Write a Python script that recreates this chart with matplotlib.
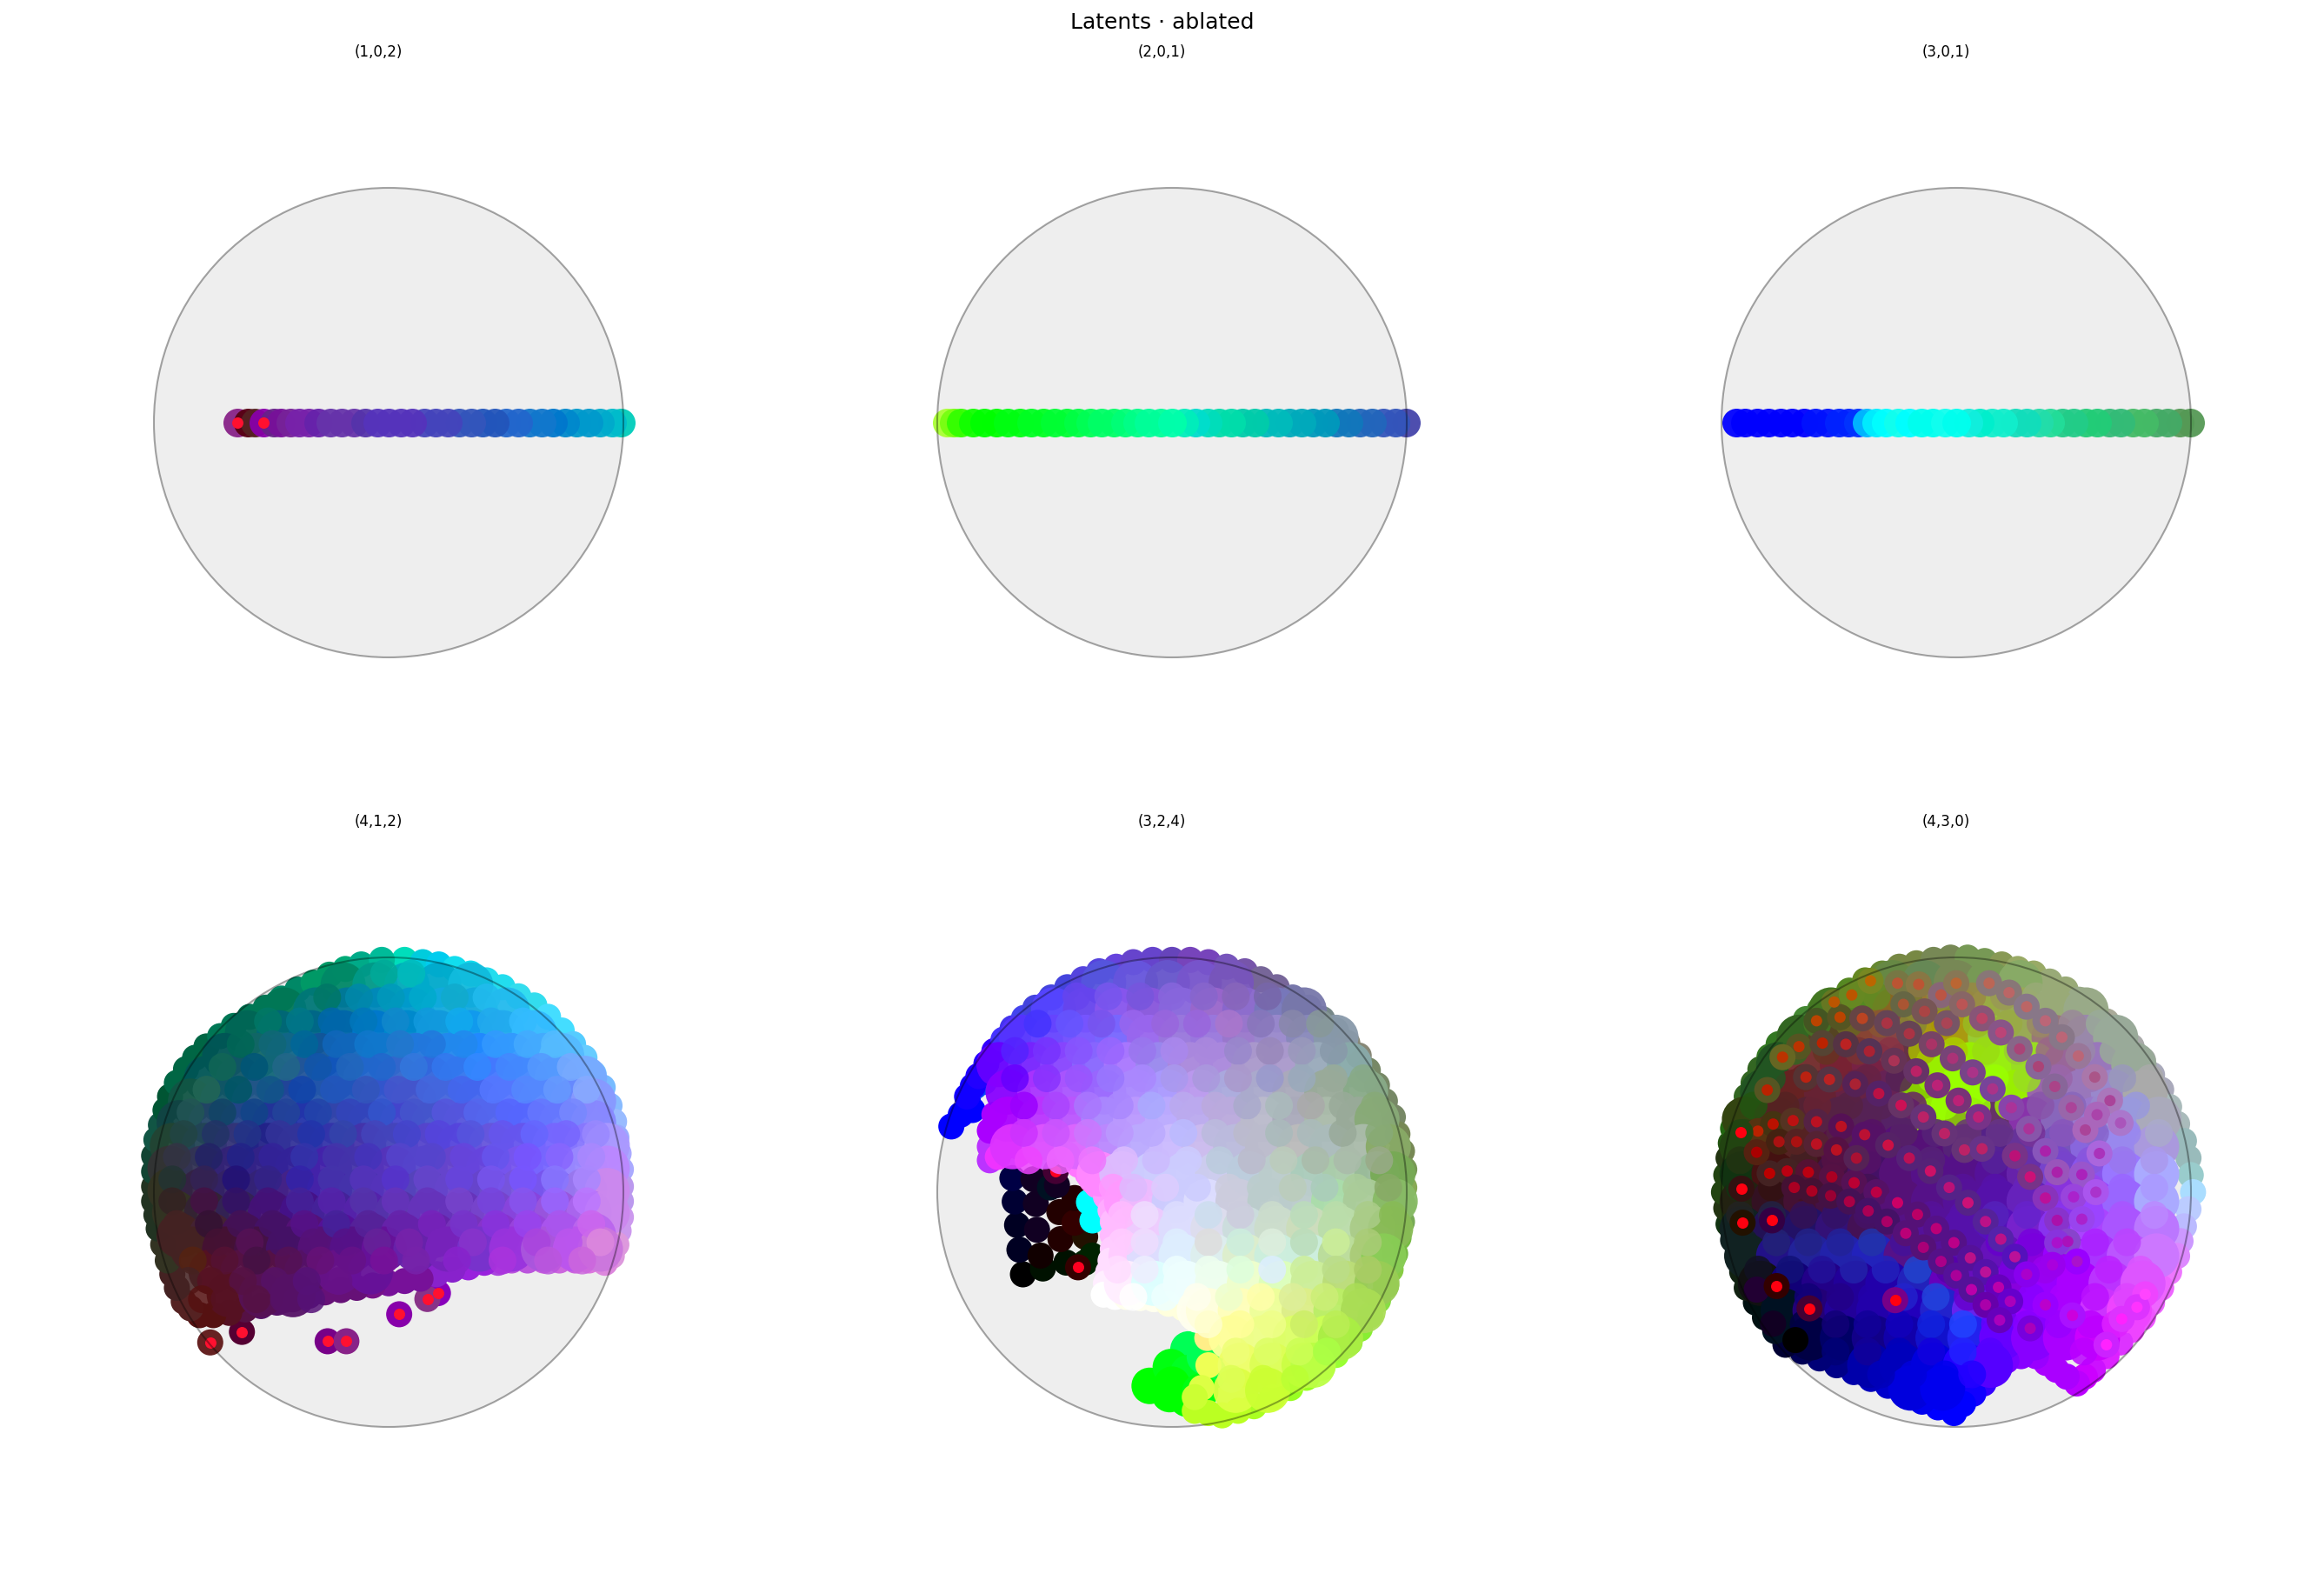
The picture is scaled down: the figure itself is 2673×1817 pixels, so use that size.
'''
Latent projections of the ablated model, six panels on the unit disk.
All points read off the reference picture.
'''
import numpy as np
import matplotlib
matplotlib.use("Agg")
import matplotlib.pyplot as plt
from matplotlib.patches import Circle

titles = ["(1,0,2)", "(2,0,1)", "(3,0,1)", "(4,1,2)", "(3,2,4)", "(4,3,0)"]

# ===== top row, everything sits on y=0 =====
p1_x = [-.645,-.6,-.57,-.533,-.49,-.46,-.42,-.38,-.34,-.3,-.25,-.2,-.15,-.1,-.05,0,.05,.1,.15,.2,.25,.3,.35,.4,.45,.5,.55,.6,.65,.7,.75,.8,.85,.9,.95,.99]
p1_c = ["#828","#501","#522","#80a","#628","#719","#729","#72a","#72a","#62a","#63a","#63a","#63a","#53a","#53b","#53b","#53b","#53b","#44b","#44b","#44b","#35b","#35b","#25b","#25b","#26c","#26c","#17c","#17c","#07c","#08c","#09c","#09c","#0ac","#0bc","#0cb"]
p1_red = [-.645,-.533]

p2_x = [-.96,-.93,-.9,-.85,-.8,-.75,-.7,-.65,-.6,-.55,-.5,-.45,-.4,-.35,-.3,-.25,-.2,-.15,-.1,-.05,0,.05,.1,.15,.2,.25,.3,.35,.4,.45,.5,.55,.6,.65,.7,.75,.8,.85,.9,.95,.997]
p2_c = ["#af3","#7f1","#3f0","#1f0","#0f0","#0f0","#0f1","#0f1","#0f2","#0f2","#0f3","#0f3","#0f4","#0f5","#0f6","#0f6","#0f7","#0f8","#0f9","#0f9","#0fa","#0eb","#0dc","#0db","#0da","#0da","#0ca","#0ca","#0bb","#0bb","#0ab","#0ab","#09b","#09b","#17b","#17b","#26b","#26b","#35b","#35b","#44a"]

p3_x = [-.937,-.9,-.85,-.8,-.75,-.7,-.65,-.6,-.55,-.5,-.46,-.42,-.38,-.34,-.3,-.25,-.2,-.15,-.1,-.05,0,.05,.1,.15,.2,.25,.3,.35,.4,.45,.5,.55,.6,.65,.7,.75,.8,.85,.9,.95,.996]
p3_c = ["#00f","#00f","#00f","#00f","#00f","#00f","#00f","#01f","#01f","#02f","#02f","#03f","#0bf","#0ef","#0ff","#1fe","#0ff","#0fe","#0fe","#1fe","#0fe","#1ed","#0ec","#1ec","#1ec","#1db","#1db","#2da","#2d9","#2c8","#2c8","#2c7","#2c7","#3b7","#3b7","#4b6","#4b6","#4a6","#4a6","#595","#595"]

# ===== (4,1,2) =====
p4_rim_x = [.07,.15,.22,.29,.36,.43,.5,.57,.64,.7,.76,.81,.86,.9,.94,.97,.99,1.0,1.01,1.02,1.02,1.02,1.02,1.01,1.0,.98,.95,.88,.82,.75,.68,.61,.54,.48,.42,.35,.28,.21,.14,.07,0,-.07,-.14,-.21,-.28,-.35,-.42,-.49,-.56,-.63,-.7,-.77,-.83,-.87,-.9,-.93,-.95,-.97,-.99,-1.01,-1.02,-1.03,-1.03,-1.03,-1.03,-1.02,-1.0,-.98,-.96,-.93,-.89,-.85,-.8,-.74,-.68,-.61,-.54,-.47,-.4,-.33,-.26,-.19,-.12,-.03]
p4_rim_y = [1.02,1.01,1.0,.98,.96,.93,.9,.86,.82,.77,.71,.65,.59,.52,.46,.38,.31,.24,.17,.1,.025,-.04,-.11,-.17,-.23,-.28,-.31,-.3,-.3,-.3,-.3,-.3,-.3,-.31,-.31,-.33,-.34,-.36,-.38,-.39,-.4,-.41,-.42,-.43,-.44,-.455,-.47,-.485,-.5,-.515,-.53,-.54,-.54,-.51,-.48,-.42,-.36,-.3,-.23,-.16,-.1,-.04,.025,.09,.16,.23,.295,.36,.42,.48,.54,.59,.64,.685,.73,.77,.81,.85,.89,.92,.955,.98,1.0,1.02]
p4_rim_c = ["#0db","#0cd","#0ce","#1de","#1de","#2de","#2de","#3de","#3de","#4df","#4df","#5cf","#6cf","#7cf","#7bf","#8bf","#9bf","#9af","#aaf","#aaf","#b9e","#b9e","#c9e","#c9e","#d9d","#d9d","#d8d","#d7d","#c6d","#c6d","#c6d","#b5d","#b5d","#a4d","#92d","#92d","#82c","#82c","#719","#719","#719","#718","#617","#617","#617","#517","#517","#516","#516","#514","#512","#511","#511","#522","#522","#422","#422","#332","#332","#232","#232","#232","#232","#143","#143","#154","#154","#053","#053","#064","#064","#064","#064","#075","#075","#075","#075","#086","#086","#096","#096","#0a7","#0a8","#0b9"]

p4_y = [.91,.80,.70,.60,.50,.40,.305,.205,.105,.007,-.09,-.19,-.25,-.35,-.45]
p4_x = [
    [-.2,-.06,.08,.22,.36],
    [-.46,-.32,-.18,-.04,.1,.24,.38,.52],
    [-.62,-.48,-.34,-.2,-.06,.08,.22,.36,.5,.64],
    [-.72,-.58,-.44,-.3,-.16,-.02,.12,.26,.4,.54,.68,.76],
    [-.8,-.66,-.52,-.38,-.24,-.1,.04,.18,.32,.46,.6,.74,.86],
    [-.87,-.73,-.59,-.45,-.31,-.17,-.03,.11,.25,.39,.53,.67,.81,.9],
    [-.92,-.78,-.64,-.5,-.36,-.22,-.08,.06,.2,.34,.48,.62,.76,.9],
    [-.95,-.81,-.67,-.53,-.39,-.25,-.11,.03,.17,.31,.45,.59,.73,.87,.96],
    [-.96,-.82,-.68,-.54,-.4,-.26,-.12,.02,.16,.3,.44,.58,.72,.86,.96],
    [-.96,-.82,-.68,-.54,-.4,-.26,-.12,.02,.16,.3,.44,.58,.72,.86,.96],
    [-.94,-.8,-.66,-.52,-.38,-.24,-.1,.04,.18,.32,.46,.6,.74,.88,.96],
    [-.92,-.78,-.64,-.5,-.36,-.22,-.08,.06,.2,.34,.48,.62,.76,.9],
    [-.86,-.72,-.58,-.44,-.3,-.16,-.02,.12,.26,.4,.54,.68,.82,.93],
    [-.78,-.64,-.5,-.36,-.22,-.08],
    [-.7,-.56,-.42],
]
p4_c = [
    ["#086","#098","#0ab","#0ac","#1bd"],
    ["#075","#077","#079","#08b","#09c","#1ad","#1ad","#2be"],
    ["#065","#067","#068","#06a","#07c","#08c","#19d","#19e","#2ae","#3bf"],
    ["#055","#166","#168","#159","#16b","#17c","#27d","#28e","#28f","#39f","#4af","#5bf"],
    ["#055","#156","#167","#259","#15b","#26c","#36c","#36d","#37e","#47f","#48f","#59f","#7af"],
    ["#154","#156","#258","#249","#25a","#25b","#35c","#45c","#46d","#46e","#57f","#58f","#68f","#89f"],
    ["#144","#246","#248","#239","#23a","#34a","#34b","#44c","#45c","#55d","#56e","#56f","#67f","#88f"],
    ["#243","#245","#337","#228","#339","#33a","#43a","#44b","#54c","#54d","#65d","#65e","#76f","#87f","#a9f"],
    ["#333","#335","#327","#328","#329","#42a","#43a","#53b","#54c","#64c","#64d","#75e","#76f","#98f","#b8f"],
    ["#332","#324","#326","#327","#428","#42a","#43a","#53b","#54b","#64c","#64c","#75d","#75e","#97e","#c8e"],
    ["#332","#323","#325","#417","#418","#429","#52a","#53a","#63b","#63b","#74c","#84d","#95d","#a6e","#c8e"],
    ["#422","#423","#415","#416","#517","#519","#529","#62a","#62a","#73b","#83c","#94d","#a5e","#b6e"],
    ["#422","#413","#414","#416","#517","#518","#619","#62a","#72b","#73c","#93d","#a5d","#b5e","#c7d"],
    ["#512","#514","#514","#516","#618","#619"],
    ["#512","#515","#516"],
]
# finer points lying over the first set
p4b_y = [.96,.855,.75,.65,.55,.45,.35,.255,.155,.056,-.04,-.14,-.22,-.30,-.39,-.47]
p4b_x = [
    [-.02,.1],
    [-.27,-.13,.01,.15,.29,.43],
    [-.53,-.39,-.25,-.11,.03,.17,.31,.45,.59],
    [-.65,-.51,-.37,-.23,-.09,.05,.19,.33,.47,.61,.73],
    [-.73,-.59,-.45,-.31,-.17,-.03,.11,.25,.39,.53,.67,.8],
    [-.8,-.66,-.52,-.38,-.24,-.1,.04,.18,.32,.46,.6,.74,.87],
    [-.87,-.73,-.59,-.45,-.31,-.17,-.03,.11,.25,.39,.53,.67,.81],
    [-.9,-.76,-.62,-.48,-.34,-.2,-.06,.08,.22,.36,.5,.64,.78,.91],
    [-.93,-.79,-.65,-.51,-.37,-.23,-.09,.05,.19,.33,.47,.61,.75,.89],
    [-.95,-.81,-.67,-.53,-.39,-.25,-.11,.03,.17,.31,.45,.59,.73,.87],
    [-.95,-.81,-.67,-.53,-.39,-.25,-.11,.03,.17,.31,.45,.59,.73,.87],
    [-.93,-.79,-.65,-.51,-.37,-.23,-.09,.05,.19,.33,.47,.61,.75,.89],
    [-.89,-.75,-.61,-.47,-.33,-.19,-.05,.09,.23,.37,.51,.65,.79,.93],
    [-.86,-.72,-.58,-.44,-.3,-.16,-.02,.12,.3,.5,.7,.85],
    [-.88,-.78,-.64,-.5,-.36,-.22],
    [-.82,-.72,-.58,-.46,-.34],
]
p4b_c = [
    ["#0a9","#0bb"],
    ["#076","#08a","#09b","#0ac","#1ac","#2be"],
    ["#076","#078","#06a","#07b","#18c","#19d","#1ae","#2ae","#3bf"],
    ["#065","#167","#069","#16b","#17c","#27c","#27d","#28e","#39f","#4af","#5bf"],
    ["#165","#057","#268","#15a","#26b","#26c","#37d","#37e","#38f","#48f","#59f","#7af"],
    ["#265","#056","#158","#14a","#25b","#35b","#45c","#46d","#46e","#57f","#58f","#69f","#8af"],
    ["#255","#146","#148","#249","#24a","#34b","#35c","#45c","#55d","#56e","#56f","#67f","#78f"],
    ["#244","#236","#238","#339","#23a","#34a","#44b","#44c","#54d","#55d","#65e","#66f","#76f","#98f"],
    ["#334","#226","#228","#329","#33a","#43a","#43b","#54c","#54c","#64d","#65e","#75f","#86f","#a8f"],
    ["#233","#325","#217","#328","#32a","#43a","#53b","#53c","#64c","#64d","#75e","#75f","#87f","#a8f"],
    ["#322","#414","#316","#417","#429","#52a","#53a","#63b","#63b","#74c","#74d","#85e","#96f","#b7f"],
    ["#422","#313","#415","#416","#518","#429","#529","#62a","#72b","#73c","#83d","#94e","#a5e","#c6e"],
    ["#422","#413","#515","#416","#517","#518","#629","#72a","#72b","#83c","#93d","#a4d","#b5e","#d8d"],
    ["#521","#513","#414","#515","#617","#618","#719","#72a","#82c","#a3d","#b5d","#c6d"],
    ["#422","#512","#514","#516","#517","#618"],
    ["#511","#512","#514","#516","#517"],
]
p4_red_x = [.21,-.76,-.625,-.26,-.18,.045,.165]
p4_red_y = [-.43,-.64,-.595,-.635,-.635,-.52,-.455]
p4_red_c = ["#80b","#622","#503","#708","#828","#80a","#838"]

# ===== (3,2,4) =====
p5_dark_x = [-.635,-.65,-.66,-.67,-.68,-.55,-.56,-.575,-.58,-.59,-.45,-.475,-.48,-.52,-.37,-.415,-.415,-.37,-.34,-.49]
p5_dark_y = [-.35,-.245,-.14,-.04,.06,-.325,-.27,-.16,-.05,.055,-.30,-.2,-.085,.02,-.19,-.13,-.025,-.3,-.27,.03]
p5_dark_c = ["#000","#002","#002","#003","#004","#010","#100","#102","#102","#102","#010","#200","#200","#012","#210","#300","#200","#020","#020","#102"]
p5_cyan_x = [-.355,-.34]
p5_cyan_y = [-.04,-.12]
p5_green_x = [-.095,-.01,.065,.155,.07,-.005,.07,.0,.12,.14]
p5_green_y = [-.825,-.86,-.88,-.77,-.67,-.745,-.77,-.82,-.85,-.7]
p5_green_c = ["#0f0","#0f0","#0f0","#0f4","#0f5","#0f1","#0f2","#0f0","#0f1","#0f5"]
p5_blue_x = [-.94,-.87,-.85,-.84,-.8,-.9]
p5_blue_y = [.28,.40,.35,.45,.47,.33]
p5_blue_c = ["#00f","#00f","#00f","#04f","#04f","#00f"]

p5_rim_x = [-.9,-.875,-.85,-.815,-.78,-.74,-.7,-.65,-.6,-.53,-.46,-.39,-.32,-.245,-.17,-.085,0,.08,.16,.24,.32,.39,.46,.53,.6,.66,.72,.77,.82,.86,.9,.935,.97,.99,1.01,1.02,1.02,1.015,1.01,.995,.98,.96,.94,.905,.87,.825,.78,.72,.66,.59,.52,.44,.36,.29,.22,.16,.1,
            -.8,-.8,-.8,-.78,-.765,-.73,-.675,-.62,-.545,-.46,-.41,-.37,-.33,-.29,-.27,-.26,-.26,-.26,-.27,-.28,-.29,-.3,-.25,-.2,-.14,-.08,-.015,.05,.095,.14,.155,.16,.13,.1]
p5_rim_y = [.42,.465,.51,.565,.62,.67,.72,.765,.81,.855,.9,.935,.97,.99,1.01,1.02,1.02,1.02,1.01,.99,.97,.935,.9,.855,.81,.76,.71,.655,.6,.535,.47,.4,.33,.255,.18,.1,.02,-.055,-.13,-.2,-.27,-.34,-.41,-.475,-.54,-.6,-.66,-.715,-.77,-.815,-.86,-.9,-.94,-.96,-.98,-.97,-.96,
            .14,.2,.27,.34,.155,.2,.2,.21,.195,.165,.12,.08,.03,-.02,-.08,-.13,-.19,-.25,-.3,-.35,-.4,-.45,-.46,-.46,-.465,-.47,-.49,-.51,-.53,-.555,-.64,-.76,-.86,-.9]
p5_rim_c = ["#10f","#10f","#20f","#20f","#30f","#43f","#43e","#44e","#44d","#44d","#44d","#54d","#54d","#64d","#64c","#64c","#64b","#74b","#74b","#75b","#75a","#769","#769","#77a","#77a","#788","#788","#887","#887","#786","#786","#786","#786","#785","#785","#795","#8a5","#7a5","#7a5","#7b4","#7b4","#8c4","#8c4","#8d4","#8d4","#8e3","#8e3","#9f3","#9f3","#9f2","#9f2","#af2","#af2","#bf2","#bf2","#bf2","#bf2",
            "#b3f","#b3f","#a0f","#a0f","#e3f","#e3f","#e4f","#e5f","#f5f","#f6f","#f7f","#f7f","#f8f","#f9f","#faf","#fbf","#fbf","#fcf","#fdf","#fdf","#fef","#fff","#fff","#ffe","#ffe","#ffe","#ffd","#ffd","#fec","#fea","#fe8","#ef5","#df4","#cf3"]

p5_y = [.92,.80,.68,.56,.44,.32,.2,.08,-.04,-.16,-.28,-.40,-.52,-.64,-.76,-.87]
p5_x = [
    [-.3,-.16,-.02,.12,.26],
    [-.52,-.38,-.24,-.1,.04,.18,.32,.46,.58],
    [-.66,-.52,-.38,-.24,-.1,.04,.18,.32,.46,.6,.72],
    [-.76,-.62,-.48,-.34,-.2,-.06,.08,.22,.36,.5,.64,.78],
    [-.72,-.58,-.44,-.3,-.16,-.02,.12,.26,.4,.54,.68,.85],
    [-.72,-.58,-.44,-.3,-.16,-.02,.12,.26,.4,.54,.68,.82,.9],
    [-.7,-.56,-.42,-.28,-.14,0,.14,.28,.42,.56,.7,.84,.95],
    [-.32,-.22,-.08,.06,.2,.34,.48,.62,.76,.9,.97],
    [-.2,-.13,.01,.15,.29,.43,.57,.71,.85,.98],
    [-.18,-.1,.04,.18,.32,.46,.6,.74,.88,.96],
    [-.18,-.1,.04,.18,.32,.46,.6,.74,.88,.93],
    [-.2,-.08,.06,.2,.34,.48,.62,.76,.9],
    [.12,.16,.3,.44,.58,.72,.84],
    [.26,.4,.54,.68,.74],
    [.3,.44,.58,.62],
    [.28,.42],
]
p5_c = [
    ["#55d","#65d","#65c","#75c","#75b"],
    ["#54f","#64e","#85e","#85d","#86d","#96c","#86c","#77b","#77a"],
    ["#53f","#64f","#75f","#76f","#96e","#97d","#97d","#97c","#98c","#88b","#89a"],
    ["#60f","#72f","#84f","#86f","#a7f","#98e","#a8d","#a8d","#a9c","#a9c","#9ab","#8aa"],
    ["#80f","#a3f","#a5f","#96f","#a8f","#a9f","#b9e","#aad","#aac","#aab","#9a9","#8a8"],
    ["#a0f","#b3f","#b5f","#a8f","#b9f","#baf","#bae","#bad","#bbc","#aab","#aba","#9a9","#8a7"],
    ["#d3f","#d5f","#d6f","#b8f","#baf","#cbf","#cbe","#bbd","#bbc","#bbb","#abb","#aba","#8a6"],
    ["#f8f","#dbf","#ccf","#ccf","#cce","#bcd","#bcc","#acb","#aca","#9b9","#7a5"],
    ["#f9f","#ebf","#ccf","#ddf","#ccd","#bcc","#bcc","#ada","#ac9","#8b6"],
    ["#fbf","#ecf","#ddf","#dde","#cdd","#cdc","#cdb","#bda","#ac8","#8b5"],
    ["#fcf","#ddf","#def","#dee","#dec","#ced","#ced","#bd9","#ac7","#8c5"],
    ["#fef","#dff","#eff","#efe","#efc","#dfb","#ce9","#bd7","#9c5"],
    ["#ffe","#ffd","#ffb","#ef9","#de8","#be6","#ad5"],
    ["#ff9","#ef8","#df6","#cf5","#ae4"],
    ["#ef6","#df5","#cf4","#bf4"],
    ["#df4","#cf3"],
]
p5b_y = [.86,.74,.62,.5,.38,.26,.14,.02,-.1,-.22,-.34,-.46,-.58,-.7,-.82]
p5b_x = [
    [-.42,-.28,-.14,0,.14,.28,.42],
    [-.59,-.45,-.31,-.17,-.03,.11,.25,.39,.53,.65],
    [-.69,-.55,-.41,-.27,-.13,.01,.15,.29,.43,.57,.71],
    [-.69,-.55,-.41,-.27,-.13,.01,.15,.29,.43,.57,.71,.84],
    [-.65,-.51,-.37,-.23,-.09,.05,.19,.33,.47,.61,.75,.89],
    [-.65,-.51,-.37,-.23,-.09,.05,.19,.33,.47,.61,.75,.91],
    [-.63,-.49,-.35,-.21,-.07,.07,.21,.35,.49,.63,.77,.91],
    [-.26,-.17,-.03,.11,.25,.39,.53,.67,.81,.95],
    [-.22,-.12,.02,.16,.3,.44,.58,.72,.86,.97],
    [-.22,-.12,.02,.16,.3,.44,.58,.72,.86],
    [-.24,-.12,.02,.16,.3,.44,.58,.72,.86],
    [-.17,-.03,.11,.25,.39,.53,.67,.81],
    [.16,.3,.44,.58,.72],
    [.28,.42,.56,.68],
    [.26,.4,.54],
]
p5b_c = [
    ["#64e","#75e","#75d","#86d","#86c","#86b","#76a"],
    ["#43f","#65f","#75e","#96e","#96d","#96d","#a7c","#87b","#88a","#899"],
    ["#52f","#73f","#85f","#96f","#97e","#a8e","#a8d","#98c","#98b","#99b","#89a"],
    ["#60f","#83f","#95f","#97f","#a8f","#a9e","#a9d","#a9c","#99c","#9ab","#9a9","#8a8"],
    ["#90f","#a4f","#a7f","#a8f","#aaf","#bae","#bad","#aac","#abb","#aaa","#9a9","#8a7"],
    ["#c3f","#c5f","#c7f","#b9f","#baf","#bbf","#bbd","#bbc","#abb","#abb","#9a9","#8a7"],
    ["#e4f","#e6f","#e7f","#dbf","#cbf","#ccf","#bcd","#bbc","#bcb","#aba","#aba","#9a8"],
    ["#f9f","#dbf","#dcf","#ccf","#ccd","#bcc","#bcb","#acb","#ac9","#8a6"],
    ["#fbf","#edf","#ddf","#cde","#ccd","#cdc","#bdb","#bda","#ac8","#8b5"],
    ["#fcf","#edf","#def","#ddd","#ced","#ded","#bdb","#ce9","#ac7"],
    ["#fdf","#eef","#eff","#efe","#dfd","#def","#ce9","#bd8","#ac6"],
    ["#fff","#eff","#ffe","#efc","#ffa","#de9","#ce7","#ad5"],
    ["#ffc","#ff9","#ef8","#ce6","#be5"],
    ["#ef7","#df6","#cf5","#af4"],
    ["#df5","#cf3","#bf3"],
]
p5_red_x = [-.495,-.40]
p5_red_y = [.09,-.32]
p5_red_c = ["#403","#300"]

# ===== (4,3,0) =====
p6_rim_x = [-.01,-.08,-.15,-.225,-.3,-.375,-.45,-.525,-.6,-.675,-.75,-.795,-.84,-.88,-.92,-.94,-.96,-.98,-1.0,-1.01,-1.02,-1.01,-1.0,-.99,-.98,-.95,-.92,-.89,-.86,-.82,-.78,-.72,-.66,-.6,-.54,-.47,-.4,-.325,-.25,-.175,-.1,-.025,.05,.125,.2,.27,.34,.41,.48,.54,.6,.66,.72,.77,.82,.86,.9,.935,.97,1.0,1.02,1.03,1.04,1.02,1.0,.985,.97,.935,.9,.86,.82,.77,.72,.66,.6,.565,.53,.485,.44,.395,.35,.285,.22,.17,.12,.075,.03]
p6_rim_y = [-.97,-.945,-.92,-.885,-.85,-.82,-.79,-.76,-.73,-.7,-.67,-.61,-.55,-.485,-.42,-.35,-.28,-.21,-.14,-.07,0,.075,.15,.215,.28,.35,.42,.48,.54,.595,.65,.705,.76,.8,.84,.885,.93,.96,.99,1.005,1.02,1.03,1.03,1.015,1.0,.98,.96,.925,.89,.845,.8,.75,.7,.64,.58,.515,.45,.375,.3,.225,.15,.075,0,-.075,-.15,-.215,-.28,-.35,-.42,-.485,-.55,-.605,-.66,-.72,-.78,-.81,-.84,-.81,-.78,-.75,-.72,-.72,-.74,-.79,-.84,-.885,-.93]
p6_rim_c = ["#00f","#00f","#00e","#00d","#00c","#00b","#00a","#008","#007","#005","#003","#012","#011","#011","#121","#121","#122","#122","#131","#231","#241","#241","#231","#251","#261","#261","#362","#362","#362","#372","#372","#473","#483","#483","#583","#582","#682","#683","#784","#784","#785","#785","#795","#795","#895","#9a6","#9a6","#9a7","#9a7","#9a8","#9a8","#aa9","#aa9","#aaa","#aaa","#aab","#aab","#abb","#abb","#9bb","#9bb","#9cc","#adf","#bcf","#bbf","#c9f","#d8f","#e7f","#e6f","#e6f","#e5f","#e4f","#d3f","#d2f","#c1f","#c0f","#b0f","#a0f","#a0f","#a0f","#90f","#80f","#70f","#50f","#30f","#10f","#00f"]

p6_y = [.92,.8,.68,.56,.44,.32,.2,.08,-.04,-.16,-.28,-.4,-.52,-.64,-.76,-.86]
p6_x = [
    [-.28,-.14,0,.14,.28],
    [-.55,-.41,-.27,-.13,.01,.15,.29,.43,.57],
    [-.69,-.55,-.41,-.27,-.13,.01,.15,.29,.43,.57,.7],
    [-.78,-.64,-.5,-.36,-.22,-.08,.06,.2,.34,.48,.62,.78],
    [-.85,-.71,-.57,-.43,-.29,-.15,-.01,.13,.27,.41,.55,.69,.83],
    [-.93,-.79,-.65,-.51,-.37,-.23,-.09,.05,.19,.33,.47,.61,.75,.89],
    [-.94,-.8,-.66,-.52,-.38,-.24,-.1,.04,.18,.32,.46,.6,.74,.88],
    [-.94,-.8,-.66,-.52,-.38,-.24,-.1,.04,.18,.32,.46,.6,.74,.88],
    [-.94,-.8,-.66,-.52,-.38,-.24,-.1,.04,.18,.32,.46,.6,.74,.88],
    [-.94,-.8,-.66,-.52,-.38,-.24,-.1,.04,.18,.32,.46,.6,.74,.88],
    [-.92,-.78,-.64,-.5,-.36,-.22,-.08,.06,.2,.34,.48,.62,.76,.88],
    [-.86,-.72,-.58,-.44,-.3,-.16,-.02,.12,.26,.4,.54,.68,.82],
    [-.76,-.62,-.48,-.34,-.2,-.06,.08,.22,.36,.5,.64,.76],
    [-.64,-.5,-.36,-.22,-.08,.06,.2,.34,.48,.62],
    [-.38,-.24,-.1,.04,.15],
    [-.2,-.06],
]
p6_c = [
    ["#684","#685","#785","#795","#8a6"],
    ["#472","#582","#862","#973","#883","#9a4","#9a5","#9a7","#9a8"],
    ["#362","#542","#843","#844","#a91","#a91","#9c3","#9a5","#977","#98a","#9a9"],
    ["#252","#733","#723","#724","#634","#9e0","#9e0","#9e1","#9d2","#969","#97b","#9a9"],
    ["#252","#622","#623","#624","#625","#8c0","#9f0","#9f0","#9e0","#96a","#97b","#98c","#aaa"],
    ["#341","#522","#523","#524","#525","#526","#9e0","#8b1","#636","#83a","#86b","#97c","#99d","#aab"],
    ["#241","#521","#522","#514","#516","#517","#517","#527","#528","#639","#75b","#86d","#98e","#a9d"],
    ["#131","#411","#412","#414","#416","#517","#518","#518","#519","#62a","#74c","#85e","#97f","#aaf"],
    ["#221","#312","#413","#414","#415","#517","#518","#519","#51a","#62b","#83d","#94f","#96f","#aaf"],
    ["#122","#215","#216","#317","#415","#517","#519","#51a","#51b","#72c","#83e","#a4f","#a5f","#b7f"],
    ["#122","#218","#229","#22a","#22b","#518","#519","#51a","#61b","#80d","#90f","#a3f","#b5f","#c7f"],
    ["#111","#107","#208","#209","#20a","#22b","#60b","#60c","#80d","#90f","#a0f","#b3f","#d5f"],
    ["#012","#207","#209","#20a","#20b","#22c","#62e","#70e","#90f","#a0f","#c3f","#e4f"],
    ["#004","#006","#108","#10a","#11c","#22e","#60f","#80f","#a0f","#c0f"],
    ["#00a","#00b","#00d","#20f","#50f"],
    ["#00d","#00e"],
]
p6b_y = [.86,.74,.62,.5,.38,.26,.14,.02,-.1,-.22,-.34,-.46,-.58,-.7,-.8]
p6b_x = [
    [-.35,-.21,-.07,.07,.21,.35],
    [-.61,-.47,-.33,-.19,-.05,.09,.23,.37,.51,.63],
    [-.71,-.57,-.43,-.29,-.15,-.01,.13,.27,.41,.55,.69],
    [-.81,-.67,-.53,-.39,-.25,-.11,.03,.17,.31,.45,.59,.73,.85],
    [-.89,-.75,-.61,-.47,-.33,-.19,-.05,.09,.23,.37,.51,.65,.79],
    [-.93,-.79,-.65,-.51,-.37,-.23,-.09,.05,.19,.33,.47,.61,.75,.89],
    [-.95,-.81,-.67,-.53,-.39,-.25,-.11,.03,.17,.31,.45,.59,.73,.87],
    [-.95,-.81,-.67,-.53,-.39,-.25,-.11,.03,.17,.31,.45,.59,.73,.87],
    [-.95,-.81,-.67,-.53,-.39,-.25,-.11,.03,.17,.31,.45,.59,.73,.87],
    [-.93,-.79,-.65,-.51,-.37,-.23,-.09,.05,.19,.33,.47,.61,.75],
    [-.87,-.73,-.59,-.45,-.31,-.17,-.03,.11,.25,.39,.53,.67,.81],
    [-.79,-.65,-.51,-.37,-.23,-.09,.05,.19,.33,.47,.61,.75],
    [-.67,-.53,-.39,-.25,-.11,.03,.17,.31,.45,.59,.7],
    [-.53,-.39,-.25,-.11,.03,.15,.56],
    [-.33,-.19,-.05,.07],
]
p6b_c = [
    ["#682","#773","#884","#984","#995","#9a7"],
    ["#472","#662","#853","#883","#a90","#9b2","#9a4","#986","#989","#9a9"],
    ["#362","#632","#733","#834","#ab0","#ac0","#9d1","#9c3","#968","#98a","#9a9"],
    ["#252","#622","#723","#624","#525","#9e0","#9f0","#9f0","#9d2","#96a","#97b","#99b","#aaa"],
    ["#251","#522","#623","#524","#525","#626","#9f0","#9f0","#9e0","#85a","#86b","#98c","#99d"],
    ["#241","#421","#522","#524","#516","#526","#527","#637","#638","#739","#85b","#86c","#98e","#aac"],
    ["#231","#411","#422","#514","#516","#517","#527","#518","#529","#63a","#74c","#85d","#97e","#a9e"],
    ["#131","#311","#412","#414","#415","#517","#518","#519","#51a","#62b","#83d","#94e","#96f","#a9f"],
    ["#222","#224","#315","#316","#416","#518","#519","#51a","#52b","#62c","#83e","#94f","#a5f","#b8f"],
    ["#122","#227","#228","#229","#23a","#419","#519","#51a","#60c","#70d","#90e","#a2f","#b4f"],
    ["#112","#117","#219","#22a","#22b","#24c","#50a","#61b","#70d","#90e","#a0f","#b2f","#d5f"],
    ["#012","#107","#208","#20a","#22c","#24d","#60c","#80e","#80f","#a0f","#b1f","#d4f"],
    ["#004","#107","#109","#10b","#12d","#24f","#60f","#80f","#90f","#b0f","#d2f"],
    ["#007","#109","#00b","#10d","#22f","#50f","#b0f"],
    ["#00b","#00d","#00e","#20f"],
]

# lattice of ringed red points
p6_lat_x = [-.52,-.445,-.365,-.25,-.16,-.065,0,.14,.225,.30,.38,.45,.52,.59,
            -.595,-.495,-.40,-.225,-.135,-.04,.025,.11,.19,.27,.35,.42,.49,.55,
            -.67,-.57,-.47,-.37,-.295,-.2,-.105,-.015,.07,.155,.235,.31,.38,.43,
            -.74,-.64,-.54,-.43,-.33,-.265,-.17,-.08,.01,.095,
            -.805,-.845,-.78,-.695,-.595,-.49,-.39,-.29,-.2,-.11,-.03,.05,.125,.19,.25,
            -.795,-.72,-.63,-.53,-.435,-.34,-.25,-.165,-.085,-.01,.06,.125,.18,.23,
            -.69,-.615,-.535,-.455,-.375,-.295,-.215,-.14,-.065,0,.065,.125,.185,.315,
            -.235,-.14,-.05,.035,.11,.25,.315,.38,.43,.475,
            -.85,-.755,-.68,-.595,-.51,-.425,
            .655,.6,.70,.61,.535,.50,.595,.535,.43,.515,.41,.30,.38,.495,.64,.805,.705,.77]
p6_lat_y = [.81,.84,.90,.89,.885,.84,.89,.89,.85,.79,.73,.66,.58,.49,
            .73,.745,.74,.80,.77,.72,.80,.74,.68,.61,.535,.45,.36,.265,
            .62,.635,.63,.60,.72,.675,.63,.57,.51,.44,.36,.27,.175,.085,
            .575,.49,.48,.46,.42,.56,.515,.455,.39,.32,
            .435,.26,.29,.305,.30,.28,.245,.20,.145,.09,.02,-.045,-.125,-.2,-.275,
            .08,.09,.085,.065,.04,0,-.045,-.095,-.155,-.215,-.28,-.34,-.405,-.465,
            .02,.005,-.015,-.04,-.08,-.125,-.175,-.235,-.295,-.355,-.415,-.48,-.545,-.58,
            .37,.32,.25,.18,.185,.155,.065,-.025,-.12,-.21,
            .17,.215,.215,.205,.18,.145,
            .39,.33,.295,.165,.075,-.02,0,-.115,-.215,-.295,-.31,-.35,-.48,-.525,-.65,-.435,-.54,-.49]
p6_lat_ring = ["#672","#682","#782","#774","#874","#867","#875","#877","#877","#878","#878","#878","#979","#a7a",
               "#452","#552","#644","#664","#755","#756","#866","#857","#858","#868","#869","#869","#96a","#a6b",
               "#552","#543","#534","#535","#645","#645","#746","#747","#748","#749","#84a","#85a","#85b","#95b",
               "#662","#533","#534","#525","#526","#635","#636","#737","#737","#738",
               "#552","#531","#431","#532","#524","#515","#516","#526","#527","#527","#528","#528","#529","#52a","#51b",
               "#422","#422","#513","#514","#515","#516","#517","#517","#518","#518","#519","#51a","#60b","#60c",
               "#413","#413","#414","#415","#416","#416","#517","#517","#518","#519","#519","#60a","#60b","#70d",
               "#636","#637","#637","#637","#638","#738","#738","#83b","#83c","#84c",
               "#521","#421","#522","#523","#514","#525",
               "#a7b","#a6b","#a7c","#a6d","#95c","#94d","#a5e","#94e","#83d","#90f","#90e","#80e","#90f","#a1f","#c2f","#e4f","#d3f","#d3f"]
p6_lat_dot = ["#b50","#b50","#b60","#b53","#b53","#b54","#b63","#b65","#b66","#b66","#b67","#b67","#b67","#a58",
              "#b40","#b40","#b42","#a53","#a44","#a45","#b55","#b46","#b47","#a47","#a47","#a48","#a49","#a49",
              "#b30","#b20","#b22","#a23","#a34","#a34","#a36","#a37","#a38","#a38","#a39","#a39","#a2a","#a2a",
              "#b30","#b21","#b22","#a23","#b14","#a35","#b26","#b27","#b27","#b27",
              "#b20","#b20","#b10","#b11","#b12","#b12","#b13","#c14","#b15","#c16","#b17","#c17","#b18","#b18","#b19",
              "#b00","#b01","#b01","#a02","#b03","#b04","#c06","#b06","#b07","#b08","#b18","#b19","#b0a","#a0b",
              "#a02","#a02","#903","#a04","#a05","#a06","#b07","#a07","#a08","#a09","#b0a","#a0a","#a0b","#a0b",
              "#c15","#b26","#b26","#b26","#b26","#b17","#c17","#b19","#a1a","#a1b",
              "#a00","#a11","#a11","#b12","#b12","#a13",
              "#a49","#a4a","#a5b","#a3b","#a2b","#a2c","#a3c","#a2c","#a1c","#a1c","#a0d","#a0c","#b0c","#c0d","#f2f","#f4f","#f2f","#f3f"]

# the bright ones near the left edge, nothing on top of them
p6_red_x = [-.92,-.915,-.91,-.785,-.765,-.625,-.26]
p6_red_y = [.255,.015,-.13,-.12,-.40,-.495,-.46]
p6_red_c = ["#241","#311","#210","#304","#300","#403","#708"]
p6_black_x = [-.85,-.78,-.685]
p6_black_y = [-.415,-.56,-.63]
p6_black_c = ["#203","#102","#000"]

# ==================================================

W, H, DPI = 2673, 1817, 150
CX = [447, 1348, 2250]
CY = [486, 1371]
S_BIG = (30*72/DPI)**2
S_BAR = (33*72/DPI)**2
S_FILL = (52*72/DPI)**2
S_LOBE = (42*72/DPI)**2
S_FINE = (32*72/DPI)**2
S_DOT = (13*72/DPI)**2
SHRINK = 0.97 # rim and fill were read a touch too wide

def flat(rows_y, rows_x, rows_c):
    xs, ys, cs = [], [], []
    for y, x_row, c_row in zip(rows_y, rows_x, rows_c):
        for x, c in zip(x_row, c_row):
            xs.append(x)
            ys.append(y)
            cs.append(c)
    return xs, ys, cs

def make_ax(fig, col, row, title):
    half = 405
    ax = fig.add_axes([(CX[col]-half)/W, 1-(CY[row]+half)/H, 2*half/W, 2*half/H])
    ax.set_xlim(-1.5, 1.5)
    ax.set_ylim(-1.5, 1.5)
    ax.set_aspect("equal")
    ax.axis("off")
    ax.set_title(title, fontsize=8, x=0.486, pad=7.5)
    ax.add_patch(Circle((0, 0), 1, fc="#eeeeee", ec="none", zorder=0))
    ax.add_patch(Circle((0, 0), 1, fc="none", ec="black", alpha=0.35, lw=1.0, zorder=8))
    return ax

def dots(ax, x, y, c, s, z=2, alpha=1.0):
    ax.scatter(x, y, s=s, c=c, linewidths=0, alpha=alpha, zorder=z, clip_on=False)

def body(ax, x, y, c, s, z=2, alpha=1.0):
    dots(ax, np.array(x)*SHRINK, np.array(y)*SHRINK, c, s, z, alpha)

def bar_panel(ax, x, c):
    # outer points first, the middle ones lie on top
    for i in np.argsort(-np.abs(np.array(x))):
        dots(ax, [x[i]], [0], [c[i]], S_BAR, alpha=0.95)

def main():
    fig = plt.figure(figsize=(W/DPI, H/DPI), dpi=DPI)
    fig.text(1337/W, 1-26/H, "Latents · ablated", ha="center", va="center", fontsize=12)

    ax = make_ax(fig, 0, 0, titles[0])
    bar_panel(ax, p1_x, p1_c)
    dots(ax, p1_red, [0]*len(p1_red), "#ff1030", S_DOT, z=4)

    ax = make_ax(fig, 1, 0, titles[1])
    bar_panel(ax, p2_x, p2_c)

    ax = make_ax(fig, 2, 0, titles[2])
    bar_panel(ax, p3_x, p3_c)

    ax = make_ax(fig, 0, 1, titles[3])
    dots(ax, p4_red_x, p4_red_y, p4_red_c, S_BIG, z=1)
    dots(ax, p4_red_x, p4_red_y, "#ff1030", S_DOT, z=1.5)
    body(ax, p4_rim_x, p4_rim_y, p4_rim_c, S_BIG)
    body(ax, *flat(p4_y, p4_x, p4_c), S_FILL, z=3, alpha=0.95)
    body(ax, *flat(p4b_y, p4b_x, p4b_c), S_FINE, z=3.5, alpha=0.85)

    ax = make_ax(fig, 1, 1, titles[4])
    dots(ax, p5_dark_x, p5_dark_y, p5_dark_c, S_BIG, z=1)
    dots(ax, p5_cyan_x, p5_cyan_y, "#00ffff", S_BIG, z=1.2)
    dots(ax, p5_red_x, p5_red_y, p5_red_c, S_BIG, z=1.3)
    dots(ax, p5_red_x, p5_red_y, "#ff0020", S_DOT, z=1.4)
    dots(ax, p5_green_x, p5_green_y, p5_green_c, S_LOBE, z=1)
    dots(ax, p5_blue_x, p5_blue_y, p5_blue_c, S_BIG, z=1)
    body(ax, p5_rim_x, p5_rim_y, p5_rim_c, S_BIG)
    body(ax, *flat(p5_y, p5_x, p5_c), S_FILL, z=3, alpha=0.95)
    body(ax, *flat(p5b_y, p5b_x, p5b_c), S_FINE, z=3.5, alpha=0.85)

    ax = make_ax(fig, 2, 1, titles[5])
    body(ax, p6_rim_x, p6_rim_y, p6_rim_c, S_BIG)
    body(ax, *flat(p6_y, p6_x, p6_c), S_FILL, z=3)
    body(ax, *flat(p6b_y, p6b_x, p6b_c), S_FINE, z=3.5, alpha=0.85)
    dots(ax, p6_lat_x, p6_lat_y, p6_lat_ring, S_BIG, z=4)
    dots(ax, p6_lat_x, p6_lat_y, p6_lat_dot, S_DOT, z=5)
    dots(ax, p6_black_x, p6_black_y, p6_black_c, S_BIG, z=6)
    dots(ax, p6_red_x, p6_red_y, p6_red_c, S_BIG, z=6)
    dots(ax, p6_red_x, p6_red_y, "#ff0010", S_DOT, z=7)

    fig.savefig("out.png", dpi=DPI)

if __name__ == '__main__':
    main()
